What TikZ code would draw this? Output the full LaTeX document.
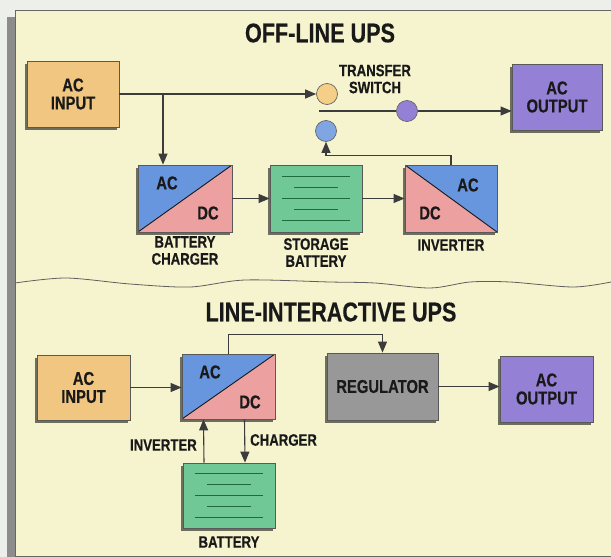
\documentclass[tikz,border=0pt]{standalone}
\usepackage{fontspec}
\setsansfont{Liberation Sans}[FakeStretch=0.8, BoldFeatures={FakeBold=0.4}]
\usetikzlibrary{arrows.meta,shadows}
\definecolor{cream}{RGB}{246,244,206}
\definecolor{paper}{RGB}{237,239,234}
\definecolor{inputorange}{RGB}{240,198,128}
\definecolor{outputviolet}{RGB}{148,128,212}
\definecolor{acblue}{RGB}{104,150,222}
\definecolor{dcpink}{RGB}{236,160,160}
\definecolor{battgreen}{RGB}{112,200,150}
\definecolor{battstripe}{RGB}{30,105,62}
\definecolor{reggray}{RGB}{152,152,152}
\definecolor{swamber}{RGB}{245,206,135}
\definecolor{ink}{RGB}{25,25,25}

\begin{document}
\begin{tikzpicture}[x=1pt,y=-1pt,
    >={Triangle[length=11pt,width=9pt]},
    every node/.style={font=\sffamily\bfseries, text=ink},
    heading/.style={font=\sffamily\bfseries\fontsize{27}{27}\selectfont},
    tagline/.style={align=center, inner sep=0pt, font=\sffamily\bfseries\fontsize{16.5}{17}\selectfont},
    ctext/.style={inner sep=0pt, font=\sffamily\bfseries\fontsize{18.5}{18}\selectfont},
    wire/.style={draw=ink!85, line width=1.1pt},
    box/.style={draw=black!65, line width=.8pt, minimum width=92pt, minimum height=66pt,
        inner sep=0pt, align=center, font=\sffamily\bfseries\fontsize{18.5}{18}\selectfont,
        drop shadow={shadow xshift=-2pt, shadow yshift=-2.5pt, fill=black, opacity=.55}},
    updiag/.style={box, path picture={
        \fill[dcpink] (path picture bounding box.south west) -- (path picture bounding box.south east) -- (path picture bounding box.north east) -- cycle;
        \fill[acblue] (path picture bounding box.south west) -- (path picture bounding box.north west) -- (path picture bounding box.north east) -- cycle;
        \draw[ink, line width=.9pt] (path picture bounding box.south west) -- (path picture bounding box.north east);}},
    downdiag/.style={box, path picture={
        \fill[dcpink] (path picture bounding box.north west) -- (path picture bounding box.south west) -- (path picture bounding box.south east) -- cycle;
        \fill[acblue] (path picture bounding box.north west) -- (path picture bounding box.north east) -- (path picture bounding box.south east) -- cycle;
        \draw[ink, line width=.9pt] (path picture bounding box.north west) -- (path picture bounding box.south east);}},
    batt/.style={box, fill=battgreen, path picture={
        \foreach \dy/\hw in {-22/34,-11/22,0/34,11/22,22/34}
          \draw[battstripe, line width=1.2pt] ([shift={(-\hw,\dy)}]path picture bounding box.center) -- ([shift={(\hw,\dy)}]path picture bounding box.center);}},
    swdot/.style={circle, draw=black!60, line width=.7pt, minimum size=21pt, inner sep=0pt}
  ]
  \useasboundingbox (0,0) rectangle (611,557);
  \fill[paper] (0,0) rectangle (611,557);
  \fill[black!45] (7,17) rectangle (15,557);
  \fill[cream] (15,10) rectangle (611,556);
  \draw[black!60, line width=.8pt] (611,10) -- (15,10) -- (15,556) -- (611,556);
  \draw[ink!70, line width=.8pt] plot[smooth] coordinates {(15,283) (66,278) (130,284) (190,287) (245,280) (330,282) (375,283) (430,288) (470,282) (510,282) (573,287) (611,282)};

  % off-line
  \node[heading] (title1) at (320,33) {OFF-LINE UPS};
  \node[box, fill=inputorange] (acin1) at (73,94) {AC\\INPUT};
  \node[box, fill=outputviolet, minimum width=90pt] (acout1) at (557,97) {AC\\OUTPUT};
  \node[swdot, fill=swamber] (swin) at (327,94) {};
  \node[swdot, fill=outputviolet] (swout) at (407,111) {};
  \node[swdot, fill=acblue!85] (swbat) at (326,131) {};
  \node[tagline] (swname) at (375,79) {TRANSFER\\SWITCH};
  \node[updiag, minimum width=94pt, minimum height=67pt] (chg) at (185,198.5) {};
  \node[batt, minimum height=67pt] (stor) at (316,198.5) {};
  \node[downdiag, minimum height=67pt] (inv) at (451,198.5) {};
  \node[ctext] (chgac) at (167,183) {AC};
  \node[ctext] (chgdc) at (208,213) {DC};
  \node[ctext] (invac) at (468,185) {AC};
  \node[ctext] (invdc) at (430,213) {DC};
  \node[tagline] (chgname) at (185,250.5) {BATTERY\\CHARGER};
  \node[tagline] (storname) at (316,252.5) {STORAGE\\BATTERY};
  \node[tagline] (invname) at (451,245) {INVERTER};

  \coordinate (tap) at (163,94);
  \coordinate (pivot) at (319,111);
  \draw[wire,->] (acin1) -- (swin);
  \draw[wire,->] (tap) -- (tap |- chg.north);
  \draw[wire] (pivot) -- (swout);
  \draw[wire,->] (swout) -- (swout -| acout1.west);
  \draw[wire,->] (chg) -- (stor);
  \draw[wire,->] (stor) -- (inv);
  \draw[wire,->] (inv.north) -- ++(0,-9) -| (swbat.south);

  % line-interactive
  \node[heading] (title2) at (331,312) {LINE-INTERACTIVE UPS};
  \node[box, fill=inputorange, minimum width=93pt, minimum height=65pt] (acin2) at (83.5,387.5) {AC\\INPUT};
  \node[updiag, minimum width=93pt, minimum height=65pt] (acdc) at (228.5,386.5) {};
  \node[box, fill=reggray, minimum width=111pt, minimum height=67pt] (reg) at (382.5,386.5) {REGULATOR};
  \node[box, fill=outputviolet, minimum width=93pt] (acout2) at (546.5,389) {AC\\OUTPUT};
  \node[batt, minimum height=65pt] (bat2) at (229,495.5) {};
  \node[ctext] (acdcac) at (210,372) {AC};
  \node[ctext] (acdcdc) at (250,402) {DC};
  \node[tagline, anchor=east] (invlbl) at (197,445) {INVERTER};
  \node[tagline, anchor=west] (chglbl) at (250,440) {CHARGER};
  \node[tagline] (batname) at (229,542) {BATTERY};

  \draw[wire,->] (acin2.east) -- (acin2.east -| acdc.west);
  \draw[wire,->] (reg.east) -- (reg.east -| acout2.west);
  \draw[wire,->] (acdc.north) -- ++(0,-19) -| (reg.north);
  \draw[wire,->] ([xshift=-25pt]bat2.north) -- ([xshift=-25pt]acdc.south);
  \draw[wire,->] ([xshift=16pt]acdc.south) -- ([xshift=16pt]bat2.north);
\end{tikzpicture}
\end{document}
